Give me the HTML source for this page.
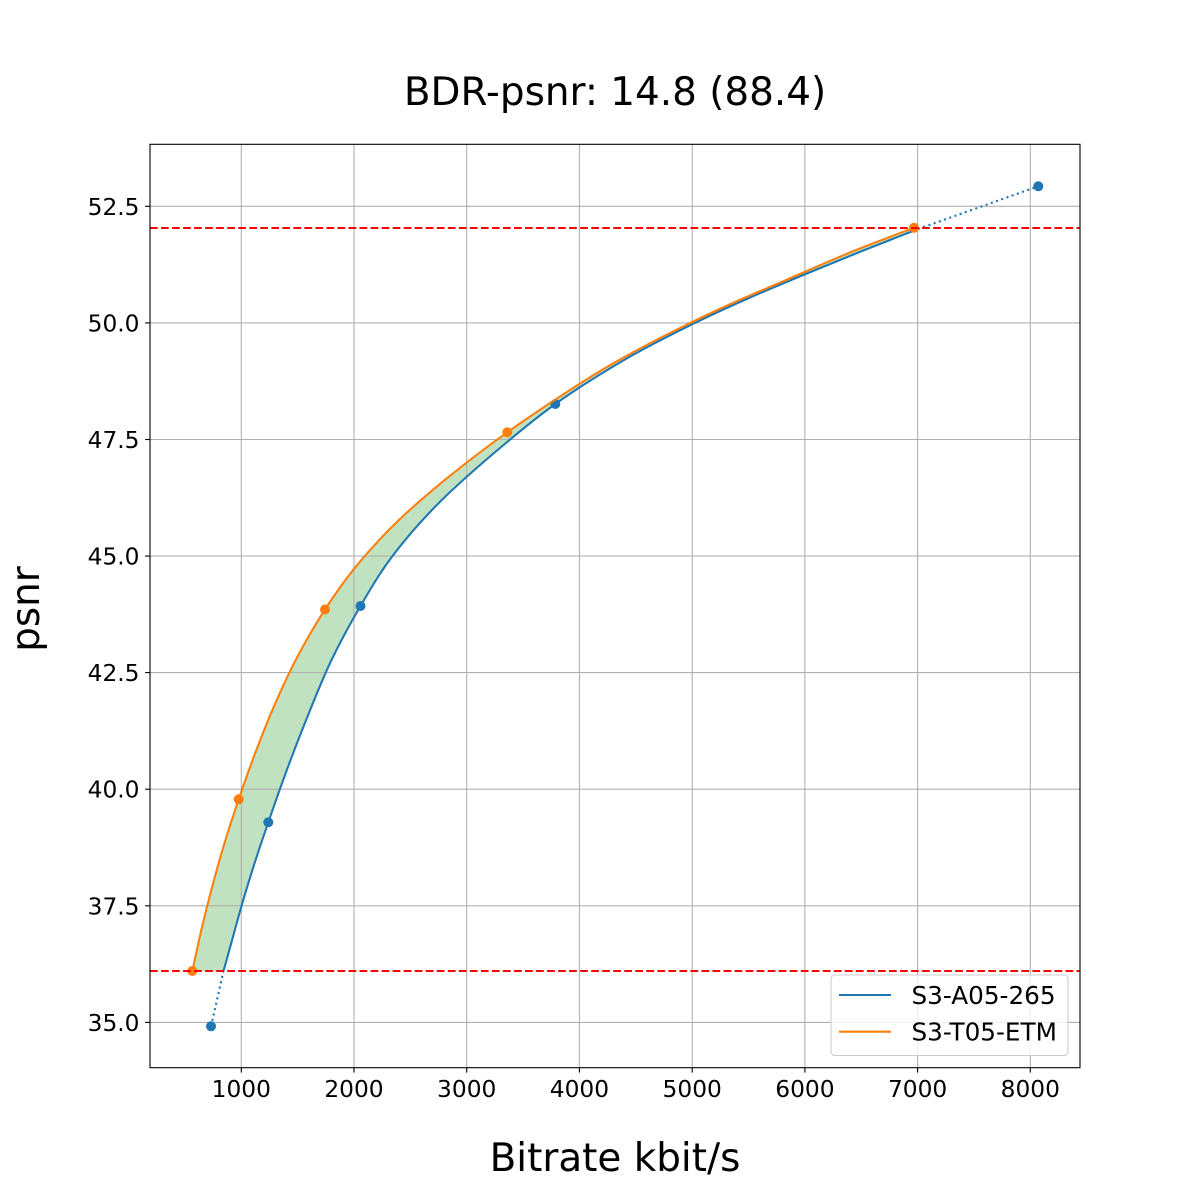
<!DOCTYPE html>
<html>
<head>
<meta charset="utf-8">
<style>
html,body{margin:0;padding:0;background:#fff;}
svg{display:block;}
text{font-family:"DejaVu Sans","Liberation Sans",sans-serif;fill:#000;}
</style>
</head>
<body>
<svg width="1200" height="1200" viewBox="0 0 1200 1200" xmlns="http://www.w3.org/2000/svg">
<rect x="0" y="0" width="1200" height="1200" fill="#fff"/>

<!-- fill between curves -->
<path fill="#c0e2c0" stroke="none" d="M192.3,971 C195.47,956.7 198.42,942.4 201.8,928.1 C205.18,913.8 208.77,899.52 212.6,885.2 C216.43,870.88 220.45,856.52 224.8,842.2 C229.15,827.88 233.55,814.37 238.7,799.3 C243.85,784.23 249.68,767.62 255.7,751.8 C261.72,735.98 267.87,720.2 274.8,704.4 C281.73,688.6 288.93,672.82 297.3,657.0 C305.67,641.18 315.05,624.8 325,609.5 C334.95,594.2 344.83,579.97 357,565.2 C369.17,550.43 382.67,535.67 398,520.9 C413.33,506.13 430.78,491.37 449,476.6 C467.22,461.83 484.8,448.23 507.3,432.3 C529.8,416.37 563.55,394.05 584,381 C604.45,367.95 614.67,362.5 630,354 C645.33,345.5 659.25,338.33 676,330 C692.75,321.67 712.33,312.25 730.5,304 C748.67,295.75 765.08,289.08 785,280.5 C804.92,271.92 828.5,261.3 850,252.5 C871.5,243.7 892.67,235.97 914,227.7
L918,229 C899.33,236.33 880.72,243.5 862,251 C843.28,258.5 824.53,266.17 805.7,274 C786.87,281.83 767.83,289.67 749,298 C730.17,306.33 713.08,313.92 692.7,324 C672.32,334.08 649.6,345.17 626.7,358.5 C603.8,371.83 577.7,388 555.3,404 C532.9,420 512.05,437.67 492.3,454.5 C472.55,471.33 453.43,488.08 436.8,505 C420.17,521.92 405.22,539.17 392.5,556 C379.78,572.83 370.67,588.67 360.5,606 C350.33,623.33 340.17,641.98 331.5,660 C322.83,678.02 315.83,696.07 308.5,714.1 C301.17,732.13 294.2,750.17 287.5,768.2 C280.8,786.23 273.78,806.48 268.3,822.3 C262.82,838.12 259.02,849.32 254.6,863.1 C250.18,876.88 245.77,891.38 241.8,905 C237.83,918.62 233.85,933.8 230.8,944.8 C227.75,955.8 225.93,962.27 223.5,971 Z"/>

<!-- grid -->
<g stroke="#b0b0b0" stroke-width="1.1" fill="none">
<line x1="241.3" y1="144.3" x2="241.3" y2="1067.7"/>
<line x1="354.0" y1="144.3" x2="354.0" y2="1067.7"/>
<line x1="466.7" y1="144.3" x2="466.7" y2="1067.7"/>
<line x1="579.4" y1="144.3" x2="579.4" y2="1067.7"/>
<line x1="692.2" y1="144.3" x2="692.2" y2="1067.7"/>
<line x1="804.9" y1="144.3" x2="804.9" y2="1067.7"/>
<line x1="917.6" y1="144.3" x2="917.6" y2="1067.7"/>
<line x1="1030.3" y1="144.3" x2="1030.3" y2="1067.7"/>
<line x1="150" y1="206.3" x2="1080" y2="206.3"/>
<line x1="150" y1="322.9" x2="1080" y2="322.9"/>
<line x1="150" y1="439.5" x2="1080" y2="439.5"/>
<line x1="150" y1="556.1" x2="1080" y2="556.1"/>
<line x1="150" y1="672.6" x2="1080" y2="672.6"/>
<line x1="150" y1="789.2" x2="1080" y2="789.2"/>
<line x1="150" y1="905.8" x2="1080" y2="905.8"/>
<line x1="150" y1="1022.4" x2="1080" y2="1022.4"/>
</g>

<!-- blue curve -->
<path fill="none" stroke="#1f77b4" stroke-width="2.08" stroke-linejoin="round" d="M223.5,971 C225.93,962.27 227.75,955.8 230.8,944.8 C233.85,933.8 237.83,918.62 241.8,905 C245.77,891.38 250.18,876.88 254.6,863.1 C259.02,849.32 262.82,838.12 268.3,822.3 C273.78,806.48 280.8,786.23 287.5,768.2 C294.2,750.17 301.17,732.13 308.5,714.1 C315.83,696.07 322.83,678.02 331.5,660 C340.17,641.98 350.33,623.33 360.5,606 C370.67,588.67 379.78,572.83 392.5,556 C405.22,539.17 420.17,521.92 436.8,505 C453.43,488.08 472.55,471.33 492.3,454.5 C512.05,437.67 532.9,420 555.3,404 C577.7,388 603.8,371.83 626.7,358.5 C649.6,345.17 672.32,334.08 692.7,324 C713.08,313.92 730.17,306.33 749,298 C767.83,289.67 786.87,281.83 805.7,274 C824.53,266.17 843.28,258.5 862,251 C880.72,243.5 899.33,236.33 918,229"/>
<!-- blue dotted extensions -->
<line x1="211" y1="1026.3" x2="223.5" y2="971" stroke="#1f77b4" stroke-width="2.08" stroke-dasharray="2.08 3.44"/>
<line x1="918" y1="229" x2="1038.3" y2="186.3" stroke="#1f77b4" stroke-width="2.08" stroke-dasharray="2.08 3.44"/>
<!-- blue markers -->
<g fill="#1f77b4">
<circle cx="211" cy="1026.3" r="5"/>
<circle cx="268.3" cy="822.3" r="5"/>
<circle cx="360.5" cy="606" r="5"/>
<circle cx="555.3" cy="404" r="5"/>
<circle cx="1038.3" cy="186.3" r="5"/>
</g>

<!-- orange curve -->
<path fill="none" stroke="#ff7f0e" stroke-width="2.08" stroke-linejoin="round" d="M192.3,971 C195.47,956.7 198.42,942.4 201.8,928.1 C205.18,913.8 208.77,899.52 212.6,885.2 C216.43,870.88 220.45,856.52 224.8,842.2 C229.15,827.88 233.55,814.37 238.7,799.3 C243.85,784.23 249.68,767.62 255.7,751.8 C261.72,735.98 267.87,720.2 274.8,704.4 C281.73,688.6 288.93,672.82 297.3,657.0 C305.67,641.18 315.05,624.8 325,609.5 C334.95,594.2 344.83,579.97 357,565.2 C369.17,550.43 382.67,535.67 398,520.9 C413.33,506.13 430.78,491.37 449,476.6 C467.22,461.83 484.8,448.23 507.3,432.3 C529.8,416.37 563.55,394.05 584,381 C604.45,367.95 614.67,362.5 630,354 C645.33,345.5 659.25,338.33 676,330 C692.75,321.67 712.33,312.25 730.5,304 C748.67,295.75 765.08,289.08 785,280.5 C804.92,271.92 828.5,261.3 850,252.5 C871.5,243.7 892.67,235.97 914,227.7"/>
<g fill="#ff7f0e">
<circle cx="192.3" cy="971" r="5"/>
<circle cx="238.7" cy="799.3" r="5"/>
<circle cx="325" cy="609.5" r="5"/>
<circle cx="507.3" cy="432.3" r="5"/>
<circle cx="914" cy="227.7" r="5"/>
</g>

<!-- red dashed lines -->
<line x1="150" y1="228" x2="1080" y2="228" stroke="#ff0000" stroke-width="2.08" stroke-dasharray="7.7 3.33"/>
<line x1="150" y1="971" x2="1080" y2="971" stroke="#ff0000" stroke-width="2.08" stroke-dasharray="7.7 3.33"/>

<!-- spines -->
<rect x="150" y="144.3" width="930" height="923.4" fill="none" stroke="#000" stroke-width="1.1"/>

<!-- ticks -->
<g stroke="#000" stroke-width="1.1">
<line x1="145.1" y1="206.3" x2="150" y2="206.3"/>
<line x1="145.1" y1="322.9" x2="150" y2="322.9"/>
<line x1="145.1" y1="439.5" x2="150" y2="439.5"/>
<line x1="145.1" y1="556.1" x2="150" y2="556.1"/>
<line x1="145.1" y1="672.6" x2="150" y2="672.6"/>
<line x1="145.1" y1="789.2" x2="150" y2="789.2"/>
<line x1="145.1" y1="905.8" x2="150" y2="905.8"/>
<line x1="145.1" y1="1022.4" x2="150" y2="1022.4"/>
<line x1="241.3" y1="1067.7" x2="241.3" y2="1072.6"/>
<line x1="354.0" y1="1067.7" x2="354.0" y2="1072.6"/>
<line x1="466.7" y1="1067.7" x2="466.7" y2="1072.6"/>
<line x1="579.4" y1="1067.7" x2="579.4" y2="1072.6"/>
<line x1="692.2" y1="1067.7" x2="692.2" y2="1072.6"/>
<line x1="804.9" y1="1067.7" x2="804.9" y2="1072.6"/>
<line x1="917.6" y1="1067.7" x2="917.6" y2="1072.6"/>
<line x1="1030.3" y1="1067.7" x2="1030.3" y2="1072.6"/>
</g>

<!-- y tick labels -->
<g font-size="23.3" text-anchor="end">
<text x="139.5" y="214.8">52.5</text>
<text x="139.5" y="331.4">50.0</text>
<text x="139.5" y="448.0">47.5</text>
<text x="139.5" y="564.6">45.0</text>
<text x="139.5" y="681.1">42.5</text>
<text x="139.5" y="797.7">40.0</text>
<text x="139.5" y="914.3">37.5</text>
<text x="139.5" y="1030.9">35.0</text>
</g>
<!-- x tick labels -->
<g font-size="23.3" text-anchor="middle">
<text x="241.3" y="1097">1000</text>
<text x="354.0" y="1097">2000</text>
<text x="466.7" y="1097">3000</text>
<text x="579.4" y="1097">4000</text>
<text x="692.2" y="1097">5000</text>
<text x="804.9" y="1097">6000</text>
<text x="917.6" y="1097">7000</text>
<text x="1030.3" y="1097">8000</text>
</g>

<!-- titles -->
<text x="615" y="105" font-size="38.9" text-anchor="middle">BDR-psnr: 14.8 (88.4)</text>
<text x="615" y="1171" font-size="38.9" text-anchor="middle">Bitrate kbit/s</text>
<text x="0" y="0" font-size="38.9" text-anchor="middle" transform="translate(39,609) rotate(-90)">psnr</text>

<!-- legend -->
<rect x="831" y="975" width="237" height="80.5" rx="4" ry="4" fill="#ffffff" fill-opacity="0.8" stroke="#cccccc" stroke-width="1.1"/>
<line x1="839" y1="995" x2="891" y2="995" stroke="#1f77b4" stroke-width="2.08"/>
<line x1="839" y1="1031.7" x2="891" y2="1031.7" stroke="#ff7f0e" stroke-width="2.08"/>
<text x="911.5" y="1004" font-size="24.7">S3-A05-265</text>
<text x="911.5" y="1040.5" font-size="24.7">S3-T05-ETM</text>
</svg>
</body>
</html>
